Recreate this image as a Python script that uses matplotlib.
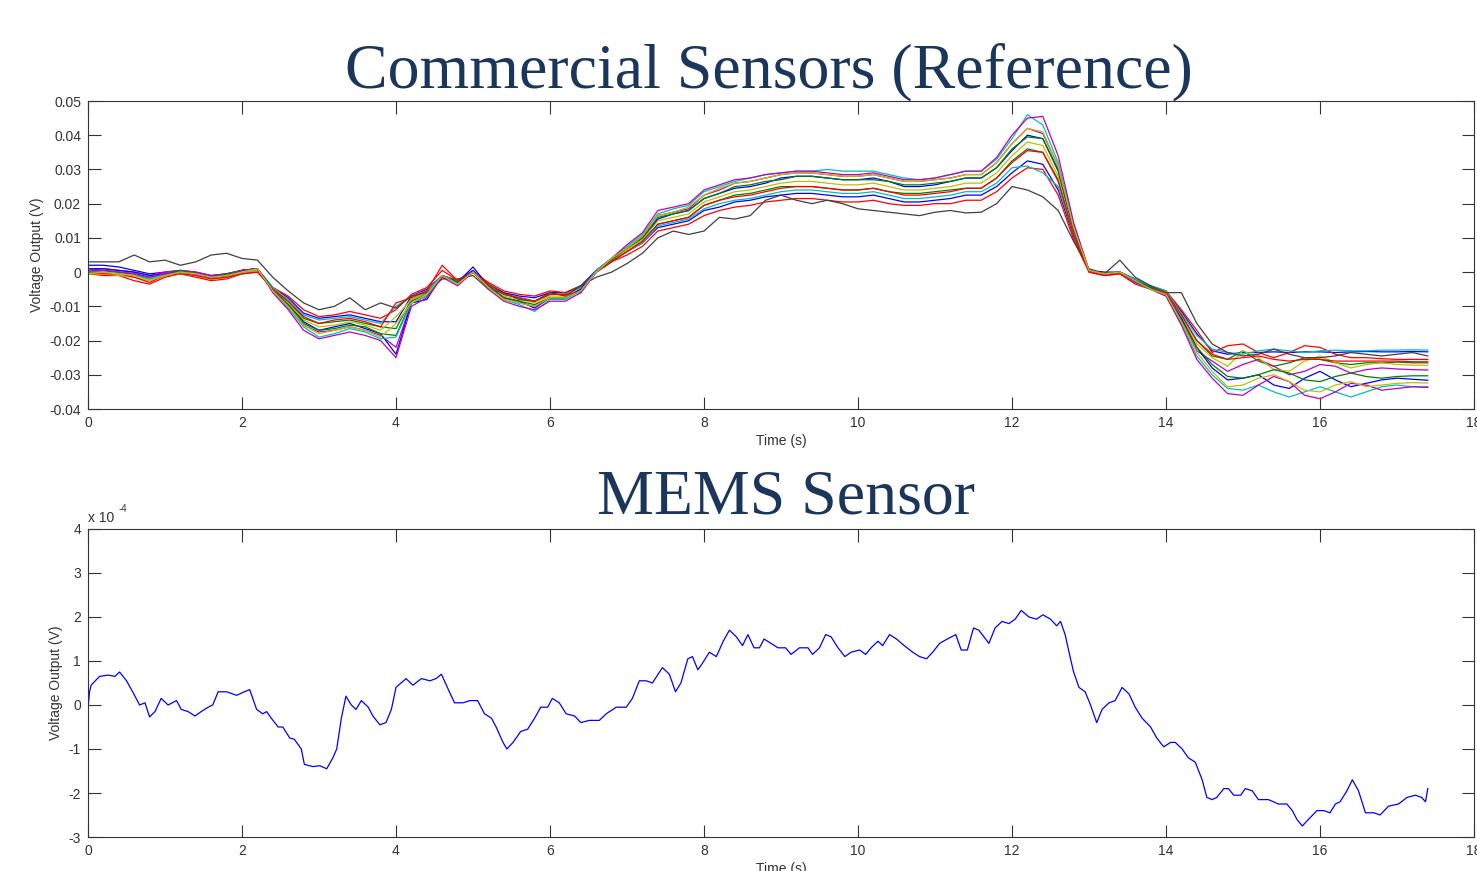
import numpy as np
import matplotlib
matplotlib.use('Agg')
import matplotlib.pyplot as plt
from matplotlib.ticker import FuncFormatter

# ---- data -------------------------------------------------------------
# commercial sensors, mV, sampled every 0.2 s from t = 0
T_STEP = 0.2

b1 = [2.0, 2.0, 1.5, 0.5, -0.5, 0, 0.5, 0, -1, -0.5, 0.5,
      1, -4.5, -7.5, -12, -13.5, -13, -12.5, -13.5, -14.5, -14.5, -7,
      -5, -1, -2.5, 0.5, -3.5, -6, -7, -7.5, -6, -6, -4,
      0.5, 3.5, 6, 8.5, 13, 14, 15, 18, 19, 20.5, 21,
      22, 22.5, 23, 23, 22.5, 22, 22, 22.5, 21.5, 20.5, 20.5,
      21, 21.5, 22.5, 22.5, 25, 29, 32.5, 31.5, 24, 10.5, 0.5,
      0, 0, -2, -4, -5.5, -11.5, -18, -23, -24, -23.5, -23.5,
      -23.3, -23.5, -23.3, -23.3, -23.5, -23.3, -23.2, -23.3, -23.3, -23.2, -23.3]
g1 = [0.5, 0.5, 0, -0.5, -2, -1, 0, -0.5, -1.5, -1, 0,
      0.5, -5, -8.5, -13.5, -15, -14.5, -14, -15, -16, -16.5, -8,
      -6, -1, -3, 0, -4, -6.5, -7.5, -8.5, -6.5, -6.5, -4.5,
      0, 3.5, 6, 9, 14, 15, 16, 19.5, 21, 22.5, 23,
      24, 25, 25, 25, 24.5, 24, 24, 24.5, 23.5, 23, 23,
      23.5, 24, 24.5, 24.5, 27.5, 32.5, 36, 35, 27, 11.5, 0.5,
      -0.5, 0, -2.5, -4.5, -6, -12.5, -20, -24.5, -25.5, -23, -26,
      -27.5, -26.5, -25, -25.5, -26.5, -27, -26.5, -26.5, -26.3, -26.5, -26.5]
r1 = [-0.5, -1, -1, -2.5, -3.5, -1.5, -0.5, -1.5, -2.5, -2, -0.5,
      0, -4.5, -7, -11, -13, -12.5, -11.5, -12.5, -13.5, -11, -6.5,
      -4.5, 0.5, -2.5, 0, -3, -5.5, -6.5, -7, -5.5, -6, -4,
      0, 3, 5, 7.5, 12, 13, 14, 16.5, 18, 19, 19.5,
      20.5, 21, 21.5, 21.5, 21, 20.5, 20.5, 21, 20, 19.5, 19.5,
      20, 20, 21, 21, 23.5, 27.5, 30.5, 30, 22.5, 9.5, 0,
      -1, -0.5, -3, -4.5, -5.5, -11, -17, -23.5, -21.5, -21, -23.5,
      -25, -23.5, -21.5, -22, -24, -25, -25, -25.3, -25.5, -25.5, -25.5]
c1 = [0, 0, -0.5, -1, -2, -1, -0.5, -1, -2, -1.5, -0.5,
      0.5, -4.5, -8, -12.5, -14, -13.5, -13, -14, -15, -10, -7,
      -5.5, -1, -2.5, 0, -3.5, -6.5, -7.5, -8.5, -6.5, -6.5, -4.5,
      0, 3, 6, 8.5, 13.5, 14.5, 15.5, 18.5, 20, 21, 21.5,
      22.5, 23.5, 24, 24, 23.5, 23, 23, 23.5, 22.5, 21.5, 21.5,
      22, 22.5, 23.5, 23.5, 26, 30.5, 31, 29, 25, 11, 0.5,
      -0.5, 0, -2, -4, -5.5, -12, -18.5, -22.5, -23.5, -24, -23,
      -22.5, -23, -23.5, -23, -22.8, -23, -23, -22.8, -22.8, -22.7, -22.8]
m1 = [0.5, 1, 0.5, 0, -1, 0, 0.5, 0, -1, -0.5, 0.5,
      1, -5.5, -10, -15.5, -17.5, -17, -16, -17, -18.5, -22, -9,
      -7, -1, -3.5, 0, -4.5, -8, -9, -10, -7.5, -7.5, -5.5,
      0, 4, 7, 10.5, 16.5, 17.5, 18.5, 22.5, 24, 26, 26.5,
      27.5, 28.5, 29, 29, 28.5, 28, 28, 28.5, 27.5, 26.5, 26.5,
      27, 27.5, 28.5, 28.5, 32, 37.5, 42, 40.5, 31, 13, 0.5,
      -0.5, 0, -2.5, -5, -6.5, -14.5, -23, -26, -29, -27, -25.5,
      -27.5, -30, -29, -27, -27.5, -29.5, -28.5, -28, -28.3, -28.5, -28.6]
y1 = [-0.5, -0.5, -1, -1.5, -2.5, -1, -0.5, -1, -2, -1.5, 0,
      0.5, -5, -9, -14, -16, -15.5, -14.5, -15.5, -17, -13, -8,
      -6, -1.5, -3, 0, -4, -7, -8, -9, -7, -7, -5,
      0, 3.5, 6.5, 9.5, 15, 16, 17, 20.5, 22, 23.5, 24,
      25, 26, 26.5, 26.5, 26, 25.5, 25.5, 26, 25, 24, 24,
      24.5, 25, 26, 26, 29, 34, 38, 37, 28, 12, 0.5,
      -0.5, 0, -2.5, -4.5, -6, -13, -21, -25, -27.5, -23, -25,
      -28.5, -29, -26, -24.5, -26.5, -28, -27, -26.5, -27, -27.2, -27.2]
k1 = [3, 3, 3, 5, 3, 3.5, 2, 3, 5, 5.5, 4,
      3.5, -1.5, -5.5, -9, -11, -10, -7.5, -11, -9, -10.5, -7,
      -6, -2, -2, -1, -5, -6, -8, -8.5, -6, -7, -4,
      -1.5, 0, 2.5, 5.5, 10, 12, 11, 12, 16, 15.5, 16.5,
      21, 22.5, 21, 20, 21, 20, 18.5, 18, 17.5, 17, 16.5,
      17.5, 18, 17.3, 17.5, 20, 25, 24, 22, 18, 9, 1,
      -0.5, 3.5, -1.5, -4, -6, -6, -15, -21, -23.5, -24.5, -24,
      -22.5, -24, -25, -25, -24.5, -23.5, -24, -24.5, -24, -23.5, -24.5]
b2 = [1, 1, 0.5, 0, -1, -0.5, 0, -0.5, -1.5, -1, 0.5,
      1, -5.5, -9.5, -14.5, -17, -16, -15, -16.5, -18, -24, -9,
      -8, -1, -3, 1.5, -4, -7.5, -8.5, -10.5, -7.5, -7.5, -5,
      0.5, 4, 7, 10, 15.5, 17, 18, 21.5, 23, 24.5, 25,
      26, 27.5, 28, 28, 27.5, 27, 27, 27.5, 26.5, 25, 25,
      25.5, 26.5, 27.5, 27.5, 30.5, 35.5, 40, 39, 29.5, 12.5, 0.5,
      -0.5, 0, -2.5, -4.5, -6.5, -13.5, -22, -28, -31.5, -31, -30,
      -33, -34, -31, -29, -31.5, -33.5, -32.5, -31.5, -31, -31.3, -31.6]
g2 = [0, 0.5, 0, -0.5, -1.5, -0.5, 0.5, -0.5, -1.5, -0.5, 0.5,
      1, -5, -9.5, -15, -17, -16.5, -15.5, -16, -18, -18.5, -8.5,
      -6.5, -1, -3, 0, -4, -7.5, -8.5, -9.5, -7.5, -7.5, -5.5,
      0, 3.5, 7, 10, 16, 17, 18, 21.5, 23, 25, 25.5,
      26.5, 27, 28, 28, 27.5, 27, 27, 27, 26.5, 25.5, 25.5,
      26, 26.5, 27.5, 27.5, 30.5, 36, 39.5, 39, 30, 12.5, 0.5,
      -0.5, 0, -2.5, -4.5, -6.5, -14, -22, -27, -30.5, -31, -30,
      -28.5, -29.5, -31.5, -32, -30.5, -29.5, -30.5, -31, -30.5, -30.3, -30.3]
r2 = [0, -0.5, -0.5, -1.5, -3, -1, -0.5, -1, -2, -1.5, -0.5,
      0, -5, -8.5, -13, -15, -14, -13.5, -14.5, -16, -9, -7.5,
      -5.5, 2, -2.5, 0, -3.5, -6.5, -7.5, -8.5, -6.5, -6.5, -6,
      0, 3, 6, 9, 14, 15, 16, 19.5, 21, 22, 22.5,
      23.5, 24.5, 25, 25, 24.5, 24, 24, 24.5, 23.5, 22.5, 22.5,
      23, 23.5, 24.5, 24.5, 27.5, 32, 35.5, 35, 26.5, 11, 0,
      -1, -0.5, -3.5, -5, -6, -12.5, -20, -24, -25.5, -25, -24.5,
      -25.5, -26, -25.5, -25.5, -26, -26, -26, -26, -26, -26.2, -26.2]
c2 = [0, 0, -0.5, -1, -2, -1, 0, -0.5, -1.5, -1, 0,
      1, -5.5, -10.5, -16, -19, -18, -16.5, -17.5, -19.5, -19, -9,
      -7, -1, -3.5, 0, -4.5, -8, -9.5, -11.5, -8, -8, -5.5,
      0.5, 4, 7.5, 11, 17, 18.5, 19.5, 23.5, 25, 26.5, 27.5,
      28.5, 29, 29.5, 29.5, 30, 29.5, 29.5, 29.5, 28.5, 27.5, 27,
      27.5, 28.5, 29.5, 29.5, 33, 39, 46, 43, 32, 14, 0.5,
      -0.5, 0, -3, -5, -7, -15, -24.5, -30, -34, -34.5, -33,
      -35, -36.5, -35, -33.5, -35, -36.5, -35, -33.5, -33, -33.5, -33.5]
m2 = [0.5, 0.5, 0, -0.5, -1.5, -0.5, 0, -0.5, -1.5, -1, 0.5,
      1, -6, -11, -17, -19.5, -18.5, -17.5, -18.5, -20, -25, -10,
      -7.5, -1.5, -4, 0, -5, -8.5, -10, -11, -8.5, -8.5, -6,
      0, 4, 8, 11.5, 18, 19, 20, 24, 25.5, 27, 27.5,
      28.5, 29, 29.5, 29.5, 29, 28.5, 28.5, 29, 28, 27, 27,
      27.5, 28.5, 29.5, 29.5, 33.5, 40, 45, 45.5, 34, 14.5, 0.5,
      -0.5, 0, -3, -5, -7, -15.5, -25.5, -31, -35.5, -36, -33,
      -30.5, -32, -36, -37, -35, -32.5, -33, -34.5, -34, -33.5, -33.7]
y2 = [-0.5, 0, -0.5, -1, -2.5, -1, 0, -0.5, -1.5, -1, 0,
      1, -5.5, -10, -15.5, -18, -17, -16, -17, -19, -15, -9,
      -6.5, -1, -3.5, 0, -4.5, -8, -9, -10, -7.5, -7.5, -5.5,
      0, 4, 7, 10.5, 16.5, 17.5, 19, 22.5, 24.5, 26, 26.5,
      27.5, 28.5, 29, 29, 28.5, 28, 28, 28.5, 27.5, 26.5, 26.5,
      27, 27.5, 28.5, 28.5, 32, 37.5, 42, 41, 31, 13, 0.5,
      -0.5, 0, -2.5, -5, -6.5, -14.5, -23.5, -29, -33.5, -33, -31,
      -30, -32, -34.5, -35, -33, -32, -33.5, -33, -32.5, -32.3, -32.4]

commercial = [b1, g1, r1, c1, m1, y1, k1, b2, g2, r2, c2, m2, y2]
colors = ['#0000ff', '#008000', '#ff0000', '#00bfbf', '#bf00bf', '#bfbf00', '#404040',
          '#0000ff', '#008000', '#ff0000', '#00bfbf', '#bf00bf', '#bfbf00']

# MEMS sensor, time (s) and output in units of 1e-4 V
mems_t = [0.0, 0.02, 0.04, 0.15, 0.26, 0.35, 0.41, 0.5, 0.58, 0.67, 0.74, 0.8, 0.87, 0.95,
          1.04, 1.15, 1.21, 1.3, 1.39, 1.47, 1.56, 1.62, 1.69, 1.8, 1.93, 2.03, 2.1, 2.19,
          2.27, 2.32, 2.38, 2.47, 2.53, 2.62, 2.68, 2.77, 2.81, 2.92, 3.01, 3.1, 3.18, 3.23,
          3.29, 3.35, 3.42, 3.48, 3.55, 3.64, 3.7, 3.79, 3.87, 3.94, 4.0, 4.13, 4.22, 4.33,
          4.44, 4.52, 4.59, 4.68, 4.76, 4.87, 4.96, 5.06, 5.15, 5.24, 5.3, 5.39, 5.44, 5.52,
          5.62, 5.71, 5.8, 5.88, 5.97, 6.03, 6.12, 6.21, 6.32, 6.4, 6.51, 6.64, 6.73, 6.86,
          6.99, 7.07, 7.16, 7.25, 7.33, 7.46, 7.55, 7.63, 7.7, 7.79, 7.85, 7.92, 7.98, 8.07,
          8.16, 8.25, 8.33, 8.42, 8.5, 8.57, 8.65, 8.72, 8.78, 8.87, 8.96, 9.06, 9.13, 9.24,
          9.35, 9.41, 9.5, 9.58, 9.65, 9.74, 9.83, 9.91, 10.02, 10.1, 10.17, 10.26, 10.32,
          10.41, 10.5, 10.6, 10.71, 10.8, 10.89, 10.97, 11.06, 11.16, 11.27, 11.34, 11.42,
          11.5, 11.57, 11.7, 11.78, 11.87, 11.96, 12.04, 12.12, 12.22, 12.32, 12.4, 12.5,
          12.58, 12.63, 12.69, 12.76, 12.8, 12.87, 12.95, 13.02, 13.1, 13.17, 13.26, 13.34,
          13.43, 13.52, 13.6, 13.69, 13.8, 13.88, 13.97, 14.06, 14.12, 14.21, 14.29, 14.38,
          14.47, 14.53, 14.6, 14.66, 14.75, 14.81, 14.88, 14.97, 15.03, 15.12, 15.2, 15.33,
          15.46, 15.57, 15.64, 15.7, 15.77, 15.85, 15.96, 16.05, 16.13, 16.2, 16.26, 16.35,
          16.42, 16.5, 16.59, 16.7, 16.78, 16.89, 17.02, 17.13, 17.24, 17.32, 17.37, 17.4]
mems_v = [-0.1, 0.3, 0.45, 0.65, 0.68, 0.65, 0.75, 0.55, 0.3, 0.0, 0.05, -0.27, -0.15, 0.15,
          0.0, 0.1, -0.1, -0.15, -0.25, -0.15, -0.05, 0.0, 0.3, 0.3, 0.22, 0.3, 0.35, -0.1,
          -0.2, -0.15, -0.3, -0.5, -0.5, -0.75, -0.78, -1.0, -1.35, -1.4, -1.38, -1.45, -1.2, -1.0,
          -0.3, 0.2, 0.0, -0.1, 0.1, -0.05, -0.25, -0.45, -0.4, -0.1, 0.4, 0.6, 0.45, 0.6,
          0.55, 0.6, 0.7, 0.35, 0.05, 0.05, 0.1, 0.1, -0.2, -0.3, -0.5, -0.85, -1.0, -0.85,
          -0.6, -0.55, -0.3, -0.05, -0.05, 0.15, 0.05, -0.2, -0.25, -0.4, -0.35, -0.35, -0.2, -0.05,
          -0.05, 0.15, 0.55, 0.55, 0.5, 0.85, 0.7, 0.3, 0.5, 1.05, 1.1, 0.8, 0.95, 1.2,
          1.1, 1.45, 1.7, 1.55, 1.35, 1.6, 1.3, 1.3, 1.5, 1.4, 1.3, 1.3, 1.15, 1.3,
          1.3, 1.15, 1.3, 1.6, 1.55, 1.3, 1.1, 1.2, 1.25, 1.15, 1.3, 1.45, 1.35,
          1.6, 1.5, 1.35, 1.2, 1.1, 1.05, 1.2, 1.4, 1.5, 1.6, 1.25, 1.25,
          1.75, 1.7, 1.4, 1.75, 1.9, 1.85, 1.95, 2.15, 2.0, 1.95, 2.05, 1.95,
          1.8, 1.9, 1.6, 1.05, 0.75, 0.4, 0.3, 0.0, -0.4, -0.1, 0.05, 0.1,
          0.4, 0.25, -0.05, -0.3, -0.5, -0.75, -0.95, -0.85, -0.85, -1.0, -1.2, -1.3,
          -1.7, -2.1, -2.15, -2.1, -1.9, -1.9, -2.05, -2.05, -1.9, -1.95, -2.15, -2.15,
          -2.25, -2.25, -2.4, -2.6, -2.75, -2.6, -2.4, -2.4, -2.45, -2.25, -2.2, -1.95,
          -1.7, -1.95, -2.45, -2.45, -2.5, -2.3, -2.25, -2.1, -2.05, -2.1, -2.2, -1.9]

x_ticks = list(range(0, 19, 2))
top_yticks = [-0.04, -0.03, -0.02, -0.01, 0, 0.01, 0.02, 0.03, 0.04, 0.05]
bot_yticks = [-3, -2, -1, 0, 1, 2, 3, 4]

# ---- figure -----------------------------------------------------------
plt.rcParams['font.family'] = ['Liberation Sans', 'DejaVu Sans']
plt.rcParams['axes.unicode_minus'] = False

TXT = '#333333'
W, H = 1477, 871
fig = plt.figure(figsize=(W / 100, H / 100), dpi=100)
ax1 = fig.add_axes([88 / W, 1 - 409 / H, 1386 / W, 308 / H])
ax2 = fig.add_axes([88 / W, 1 - 837 / H, 1386 / W, 308 / H])


def style(ax):
    ax.set_xlim(0, 18)
    ax.set_xticks(x_ticks)
    ax.tick_params(direction='in', length=9, width=0.8, top=True, right=True,
                   labelsize=10, labelcolor=TXT, color=TXT, pad=5)
    for sp in ax.spines.values():
        sp.set_color(TXT)
        sp.set_linewidth(0.8)
    ax.set_xlabel('Time (s)', fontsize=10, color=TXT, labelpad=3)
    ax.set_ylabel('Voltage Output (V)', fontsize=10, color=TXT)


for s, c in zip(commercial, colors):
    t = np.arange(len(s)) * T_STEP
    ax1.plot(t, np.array(s) / 1000.0, color=c, lw=0.9)
style(ax1)
ax1.set_ylim(-0.04, 0.05)
ax1.set_yticks(top_yticks)
ax1.yaxis.set_major_formatter(FuncFormatter(lambda v, p: f'{round(v, 2):g}'))

ax2.plot(mems_t, np.array(mems_v) * 1e-4, color='#0000ff', lw=0.9)
style(ax2)
ax2.set_ylim(-3e-4, 4e-4)
ax2.set_yticks([v * 1e-4 for v in bot_yticks])
ax2.yaxis.set_major_formatter(FuncFormatter(lambda v, p: f'{round(v * 1e4):g}'))
ax2.text(0.0, 1.022, 'x 10', transform=ax2.transAxes, fontsize=10, color=TXT,
         va='baseline', ha='left')
ax2.text(0.022, 1.055, '-4', transform=ax2.transAxes, fontsize=7, color=TXT,
         va='baseline', ha='left')

title_kw = dict(ha='center', va='baseline', fontsize=46, color='#1b365d',
                family=['Liberation Serif', 'DejaVu Serif'])
fig.text(769 / W, 1 - 87 / H, 'Commercial Sensors (Reference)', **title_kw)
fig.text(786 / W, 1 - 514 / H, 'MEMS Sensor', **title_kw)

fig.savefig('out.png', dpi=100)
